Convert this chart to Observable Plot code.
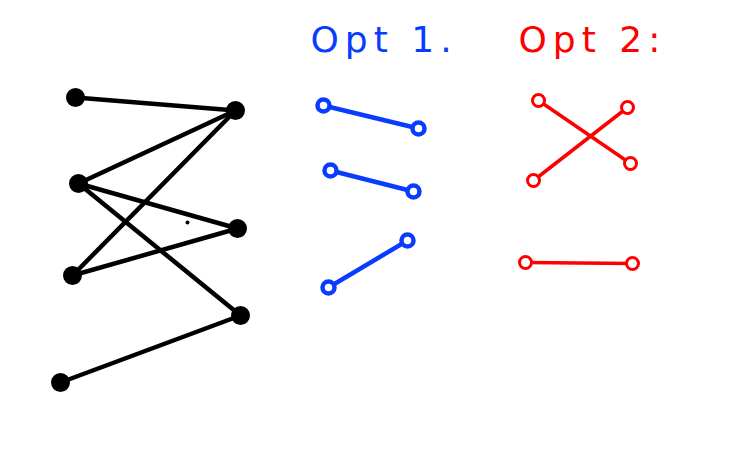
<!DOCTYPE html>
<html>
<head>
<meta charset="utf-8">
<script src="https://cdn.jsdelivr.net/npm/d3@7"></script>
<script src="https://cdn.jsdelivr.net/npm/@observablehq/plot@0.6"></script>
<style>
  html, body { margin: 0; padding: 0; background: #fff; }
</style>
</head>
<body>
<div id="chart"></div>
<script>
// Black bipartite graph: node ids and their sketch positions
const blackNodeIds = ["L1", "L2", "L3", "L4", "R1", "R2", "R3"];
const blackNodeX   = [75, 78, 72, 60, 235, 237, 240];
const blackNodeY   = [97, 183, 275, 382, 110, 228, 315];
const blackEdgeFrom = ["L1", "L2", "L3", "L2", "L3", "L2", "L4"];
const blackEdgeTo   = ["R1", "R1", "R1", "R2", "R2", "R3", "R3"];
const strayDot = [{x: 187, y: 222}];

// Option 1 (blue): three parallel matchings
const opt1X1 = [323, 330, 328];
const opt1Y1 = [105, 170, 287];
const opt1X2 = [418, 413, 407];
const opt1Y2 = [128, 191, 240];

// Option 2 (red): crossing pair and a straight one
const opt2X1 = [538, 533, 525];
const opt2Y1 = [100, 180, 262];
const opt2X2 = [630, 627, 632];
const opt2Y2 = [163, 107, 263];

// Headings
const labels = ["Opt 1.", "Opt 2:"];
const labelX = [310, 518];
const labelY = [40, 40];
const labelColor = ["#0a3cff", "#ff0000"];

const nodeMap = new Map(blackNodeIds.map((id, i) => [id, {id, x: blackNodeX[i], y: blackNodeY[i]}]));
const blackNodes = Array.from(nodeMap.values());
const blackEdges = blackEdgeFrom.map((f, i) => ({a: nodeMap.get(f), b: nodeMap.get(blackEdgeTo[i])}));
const opt1 = opt1X1.map((_, i) => ({x1: opt1X1[i], y1: opt1Y1[i], x2: opt1X2[i], y2: opt1Y2[i]}));
const opt2 = opt2X1.map((_, i) => ({x1: opt2X1[i], y1: opt2Y1[i], x2: opt2X2[i], y2: opt2Y2[i]}));
const ends = (arr) => arr.flatMap(d => [{x: d.x1, y: d.y1}, {x: d.x2, y: d.y2}]);
const labelData = labels.map((t, i) => ({t, x: labelX[i], y: labelY[i], c: labelColor[i]}));

const chart = Plot.plot({
  width: 745,
  height: 452,
  margin: 0,
  x: {domain: [0, 745], axis: null},
  y: {domain: [0, 452], reverse: true, axis: null},
  style: {background: "#fff"},
  marks: [
    Plot.link(blackEdges, {x1: d => d.a.x, y1: d => d.a.y, x2: d => d.b.x, y2: d => d.b.y,
      stroke: "#000", strokeWidth: 4.5, strokeLinecap: "round"}),
    Plot.dot(blackNodes, {x: "x", y: "y", r: 8, fill: "#000", stroke: "#000", strokeWidth: 3}),
    Plot.dot(strayDot, {x: "x", y: "y", r: 2, fill: "#000"}),
    Plot.link(opt1, {x1: "x1", y1: "y1", x2: "x2", y2: "y2",
      stroke: "#0a3cff", strokeWidth: 4.5, strokeLinecap: "round"}),
    Plot.dot(ends(opt1), {x: "x", y: "y", r: 6, fill: "#fff", stroke: "#0a3cff", strokeWidth: 4.5}),
    Plot.link(opt2, {x1: "x1", y1: "y1", x2: "x2", y2: "y2",
      stroke: "#ff0000", strokeWidth: 3.5, strokeLinecap: "round"}),
    Plot.dot(ends(opt2), {x: "x", y: "y", r: 6, fill: "#fff", stroke: "#ff0000", strokeWidth: 3}),
    Plot.text(labelData, {x: "x", y: "y", text: "t", fill: "c", textAnchor: "start",
      fontSize: 36, fontFamily: "DejaVu Sans", fontWeight: "normal"})
  ]
});
d3.select(chart).selectAll("text").style("letter-spacing", "6px");
document.getElementById("chart").appendChild(chart);
</script>
</body>
</html>
